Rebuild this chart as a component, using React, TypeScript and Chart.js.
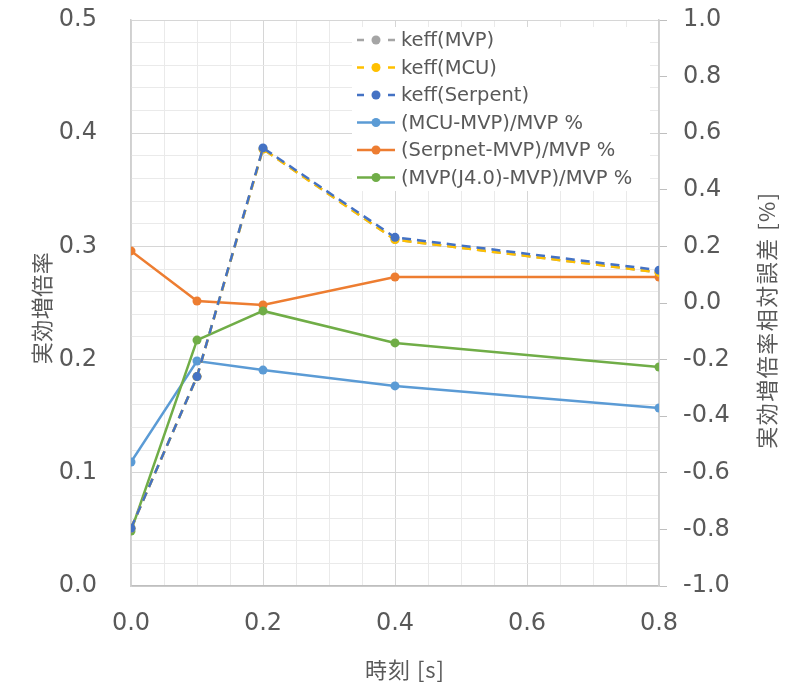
import React, { useEffect, useRef } from "react";
import { Chart, registerables } from "chart.js";

Chart.register(...registerables);

// ---- data ----
const times = [0, 0.1, 0.2, 0.4, 0.8];
const keffMVP = [0.051, 0.185, 0.386, 0.306, 0.277];
const keffMCU = [0.051, 0.185, 0.386, 0.306, 0.277];
const keffSerpent = [0.051, 0.185, 0.387, 0.308, 0.279];
const diffMCU = [-0.562, -0.205, -0.237, -0.293, -0.371];
const diffSerpent = [0.184, 0.007, -0.007, 0.092, 0.092];
const diffJ40 = [-0.806, -0.131, -0.028, -0.141, -0.226];

const seriesLabels = [
  "keff(MVP)",
  "keff(MCU)",
  "keff(Serpent)",
  "(MCU-MVP)/MVP %",
  "(Serpnet-MVP)/MVP %",
  "(MVP(J4.0)-MVP)/MVP %",
];
const seriesColors = ["#A5A5A5", "#FFC000", "#4472C4", "#5B9BD5", "#ED7D31", "#70AD47"];
const seriesDashed = [true, true, true, false, false, false];

const xMajorTicks = [0, 0.2, 0.4, 0.6, 0.8];
const leftMajorTicks = [0, 0.1, 0.2, 0.3, 0.4, 0.5];
const rightTicks = [-1, -0.8, -0.6, -0.4, -0.2, 0, 0.2, 0.4, 0.6, 0.8, 1];

const xTitle = "時刻 [s]";
const leftTitle = "実効増倍率";
const rightTitle = "実効増倍率相対誤差 [%]";

const TEXT = "#595959";
const TICK_FONT = "DejaVu Sans";
const CJK_FONT = "'Noto Sans CJK JP', 'Noto Sans', sans-serif";

const isIn = (v: number, arr: number[]) => arr.some((a) => Math.abs(a - v) < 1e-6);

const pts = (ys: number[]) => times.map((x, i) => ({ x, y: ys[i] }));

const noPad = (s: any) => {
  s.paddingTop = 0;
  s.paddingBottom = 0;
  s.paddingLeft = 0;
  s.paddingRight = 0;
};

export default function App() {
  const ref = useRef<HTMLCanvasElement | null>(null);

  useEffect(() => {
    document.body.style.margin = "0";
    const canvas = ref.current;
    if (!canvas) return;

    const allSeries = [keffMVP, keffMCU, keffSerpent, diffMCU, diffSerpent, diffJ40];
    const axisIds = ["y", "y", "y", "y1", "y1", "y1"];
    const orders = [2, 1, 0, 5, 4, 3];

    const datasets = allSeries.map((ys, i) => ({
      label: seriesLabels[i],
      data: pts(ys),
      yAxisID: axisIds[i],
      borderColor: seriesColors[i],
      backgroundColor: seriesColors[i],
      pointBackgroundColor: seriesColors[i],
      pointBorderColor: seriesColors[i],
      pointRadius: 4.5,
      pointBorderWidth: 0,
      borderWidth: 2.5,
      borderDash: seriesDashed[i] ? [9, 6] : [],
      showLine: true,
      fill: false,
      tension: 0,
      order: orders[i],
    }));

    const titlesAndLegend = {
      id: "titlesAndLegend",
      afterDraw(chart: any) {
        const ctx = chart.ctx as any;
        ctx.save();
        // axis titles
        ctx.fillStyle = TEXT;
        ctx.font = `22px ${CJK_FONT}`;
        ctx.textAlign = "center";
        ctx.textBaseline = "middle";
        ctx.letterSpacing = "1px";
        ctx.fillText(xTitle, 405, 670);

        ctx.letterSpacing = "0.5px";
        ctx.save();
        ctx.translate(42, 308);
        ctx.rotate(-Math.PI / 2);
        ctx.fillText(leftTitle, 0, 0);
        ctx.restore();

        ctx.letterSpacing = "1.5px";
        ctx.save();
        ctx.translate(767, 320);
        ctx.rotate(-Math.PI / 2);
        ctx.fillText(rightTitle, 0, 0);
        ctx.restore();
        ctx.letterSpacing = "0px";

        // legend
        const bx = 352, by = 27, bw = 298, bh = 164;
        ctx.fillStyle = "#FFFFFF";
        ctx.fillRect(bx, by, bw, bh);
        const rowH = 27.5;
        const y0 = 40;
        ctx.font = `19.5px ${TICK_FONT}`;
        ctx.textAlign = "left";
        ctx.textBaseline = "middle";
        for (let i = 0; i < seriesLabels.length; i++) {
          const y = y0 + i * rowH;
          const c = seriesColors[i];
          ctx.strokeStyle = c;
          ctx.lineWidth = 2.5;
          if (seriesDashed[i]) ctx.setLineDash([7, 24]);
          else ctx.setLineDash([]);
          ctx.beginPath();
          ctx.moveTo(357, y);
          ctx.lineTo(395, y);
          ctx.stroke();
          ctx.setLineDash([]);
          ctx.fillStyle = c;
          ctx.beginPath();
          ctx.arc(376, y, 4.5, 0, Math.PI * 2);
          ctx.fill();
          ctx.fillStyle = TEXT;
          ctx.fillText(seriesLabels[i], 401, y + 1);
        }
        ctx.restore();
      },
    };

    const chart = new Chart(canvas, {
      type: "scatter",
      data: { datasets: datasets as any },
      options: {
        animation: false,
        responsive: false,
        maintainAspectRatio: false,
        layout: { padding: { top: 20, left: 0, right: 0, bottom: 0 } },
        plugins: {
          legend: { display: false },
          tooltip: { enabled: false },
        },
        scales: {
          x: {
            type: "linear",
            position: "bottom",
            min: 0,
            max: 0.8,
            afterFit: (s: any) => {
              s.height = 107;
              noPad(s);
            },
            ticks: {
              stepSize: 0.05,
              autoSkip: false,
              maxRotation: 0,
              minRotation: 0,
              padding: 23,
              color: TEXT,
              font: { family: TICK_FONT, size: 24 },
              callback: (v: any) => (isIn(Number(v), xMajorTicks) ? Number(v).toFixed(1) : ""),
            },
            grid: {
              drawTicks: false,
              color: (c: any) => (isIn(c.tick.value, xMajorTicks) ? "#D6D6D6" : "#EAEAEA"),
              lineWidth: 1,
            },
            border: { display: true, color: "#BFBFBF", width: 1.5 },
          },
          y: {
            type: "linear",
            position: "left",
            min: 0,
            max: 0.5,
            afterFit: (s: any) => {
              s.width = 131;
              noPad(s);
            },
            ticks: {
              stepSize: 0.02,
              autoSkip: false,
              padding: 34,
              color: TEXT,
              font: { family: TICK_FONT, size: 24 },
              callback: (v: any) => (isIn(Number(v), leftMajorTicks) ? Number(v).toFixed(1) : ""),
            },
            grid: {
              drawTicks: false,
              color: (c: any) => (isIn(c.tick.value, leftMajorTicks) ? "#D6D6D6" : "#EAEAEA"),
              lineWidth: 1,
            },
            border: { display: true, color: "#D0D0D0", width: 1.5 },
          },
          y1: {
            type: "linear",
            position: "right",
            min: -1,
            max: 1,
            afterFit: (s: any) => {
              s.width = 128;
              noPad(s);
            },
            ticks: {
              stepSize: 0.2,
              autoSkip: false,
              padding: 16,
              color: TEXT,
              font: { family: TICK_FONT, size: 24 },
              callback: (v: any) => (isIn(Number(v), rightTicks) ? Number(v).toFixed(1) : ""),
            },
            grid: {
              drawOnChartArea: false,
              drawTicks: true,
              tickLength: 8,
              color: "#BFBFBF",
            },
            border: { display: true, color: "#D0D0D0", width: 1.5 },
          },
        },
      },
      plugins: [titlesAndLegend],
    });

    return () => chart.destroy();
  }, []);

  return (
    <div style={{ width: 787, height: 693, position: "relative" }}>
      <canvas ref={ref} width={787} height={693} style={{ display: "block" }} />
    </div>
  );
}
